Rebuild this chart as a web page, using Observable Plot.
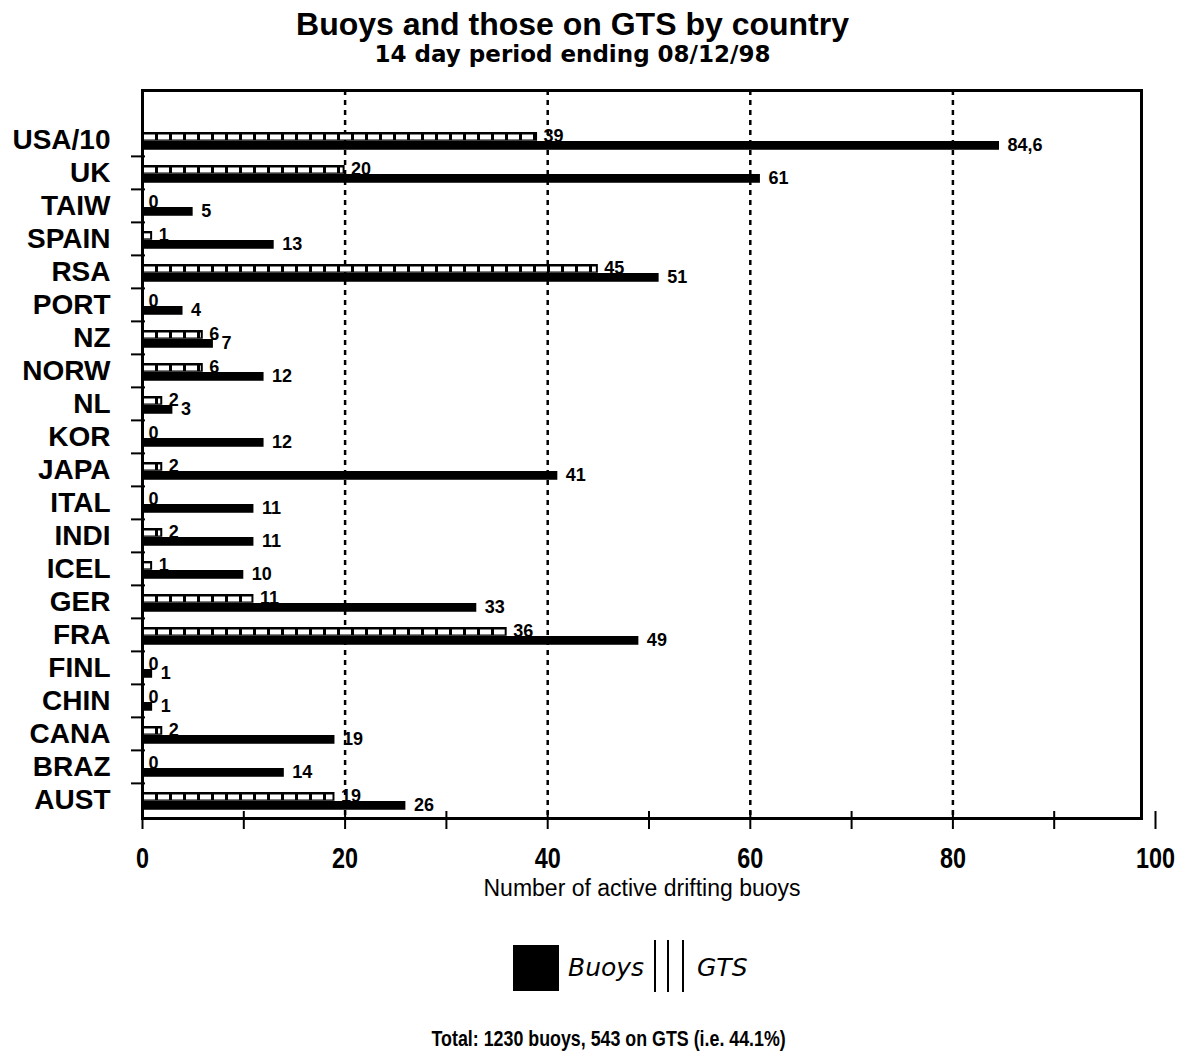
<!DOCTYPE html>
<html>
<head>
<meta charset="utf-8">
<script src="https://cdn.jsdelivr.net/npm/d3@7"></script>
<script src="https://cdn.jsdelivr.net/npm/@observablehq/plot@0.6"></script>
<style>
  html, body { margin: 0; padding: 0; background: white; }
  body { width: 1187px; height: 1059px; position: relative; overflow: hidden; font-family: "Liberation Sans", Arial, sans-serif; color: black; }
  .abs { position: absolute; line-height: 1; white-space: nowrap; }
  #title { left: 0; width: 1145px; top: 8px; text-align: center; font-size: 32px; font-weight: bold; }
  #subtitle { left: 0; width: 1145px; top: 43px; text-align: center; font-size: 23px; font-weight: bold; font-family: "DejaVu Sans", sans-serif; }
  #chart { position: absolute; left: 0; top: 70px; }
  .sw { position: absolute; left: 513px; top: 945px; width: 46px; height: 46px; background: black; }
  .lg { font-family: "DejaVu Sans", sans-serif; font-style: italic; font-size: 25px; top: 955px; }
  .vl { position: absolute; top: 940px; width: 2px; height: 52px; background: black; }
  #footer { left: 0; width: 1218px; top: 1028px; text-align: center; }
  #footer span { display: inline-block; font-weight: bold; font-size: 22px; transform: scaleX(0.81); transform-origin: center; }
</style>
</head>
<body>
<div id="title" class="abs">Buoys and those on GTS by country</div>
<div id="subtitle" class="abs">14 day period ending 08/12/98</div>
<div id="chart"></div>
<div class="sw"></div>
<div class="abs lg" style="left:568px">Buoys</div>
<div class="vl" style="left:654px"></div>
<div class="vl" style="left:667px"></div>
<div class="vl" style="left:682px"></div>
<div class="abs lg" style="left:697px">GTS</div>
<div id="footer" class="abs"><span>Total: 1230 buoys, 543 on GTS (i.e. 44.1%)</span></div>
<script>
const countries = ["USA/10","UK","TAIW","SPAIN","RSA","PORT","NZ","NORW","NL","KOR","JAPA","ITAL","INDI","ICEL","GER","FRA","FINL","CHIN","CANA","BRAZ","AUST"];
const buoys = [84.6,61,5,13,51,4,7,12,3,12,41,11,11,10,33,49,1,1,19,14,26];
const gts   = [39,20,0,1,45,0,6,6,2,0,2,0,2,1,11,36,0,0,2,0,19];
const xTicks = [0,10,20,30,40,50,60,70,80,90,100];
const xLabels = [0,20,40,60,80,100];
const gridLines = [20,40,60,80];
const xTitle = "Number of active drifting buoys";

const data = countries.map((c, i) => ({country: c, buoys: buoys[i], gts: gts[i]}));

const W = 1187, H = 835, mT = 20, mB = 87, mL = 142, mR = 32, yInsetTop = 30;
const step = (H - mT - mB - yInsetTop) / countries.length;
const fmt = v => String(v).replace(".", ",");

const chart = Plot.plot({
  width: W, height: H,
  marginTop: mT, marginBottom: mB, marginLeft: mL, marginRight: mR,
  style: {background: "white", color: "black", fontFamily: "'Liberation Sans', Arial, sans-serif", overflow: "visible"},
  x: {domain: [0, 100], label: null},
  y: {domain: countries, padding: 0, insetTop: yInsetTop, label: null},
  marks: [
    Plot.ruleX(gridLines, {stroke: "black", strokeWidth: 2.5, strokeDasharray: "5,5"}),
    // GTS bars (black outline with white dashes)
    Plot.barX(data, {y: "country", x: "gts", fill: "black", insetTop: 9, insetBottom: step - 18}),
    Plot.ruleY(data.filter(d => d.gts > 0), {y: "country", x1: 0, x2: "gts", stroke: "white", strokeWidth: 5,
      strokeDasharray: "11,3", insetLeft: 2, insetRight: 2, dy: 13.5 - step / 2}),
    // Buoys bars
    Plot.barX(data, {y: "country", x: "buoys", fill: "black", insetTop: 18, insetBottom: step - 27}),
    // labels
    Plot.text(data, {y: "country", x: "gts", text: d => fmt(d.gts), textAnchor: "start", dx: 6, dy: 12.5 - step / 2,
      fontSize: 18, fontWeight: "bold", fill: "black"}),
    Plot.text(data, {y: "country", x: "buoys", text: d => fmt(d.buoys), textAnchor: "start", dx: 8, dy: 22 - step / 2,
      fontSize: 18, fontWeight: "bold", fill: "black"}),
    Plot.frame({stroke: "black", strokeWidth: 3, insetRight: 14}),
    // x ticks crossing the axis
    Plot.axisX({ticks: xTicks, tickSize: 18, dy: -7, strokeWidth: 2, tickFormat: () => "", label: null}),
    Plot.axisX({ticks: xLabels, tickSize: 0, tickPadding: 28, fontSize: 30, fontWeight: "bold", label: null}),
    // y labels and boundary ticks
    Plot.axisY({tickSize: 0, tickPadding: 32, fontSize: 28, fontWeight: "bold", label: null}),
    Plot.axisY({ticks: countries.slice(1), tickSize: 14, dx: 3, dy: -step / 2, strokeWidth: 2, tickFormat: () => "", label: null}),
    Plot.text([xTitle], {frameAnchor: "bottom", text: d => d, dx: -7, dy: 70, lineAnchor: "middle",
      fontSize: 23, fill: "black"})
  ]
});
document.getElementById("chart").appendChild(chart);
// condensed look for the x tick labels (as in the reference)
chart.querySelectorAll('g[aria-label="x-axis tick label"] text').forEach(t => {
  const s = t.textContent;
  if (s) { t.setAttribute("textLength", 13 * s.length); t.setAttribute("lengthAdjust", "spacingAndGlyphs"); }
});
</script>
</body>
</html>
